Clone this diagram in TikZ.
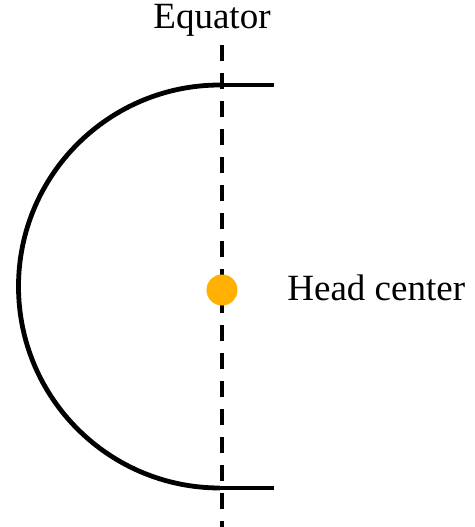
\documentclass[tikz,border=0pt]{standalone}
\usepackage{fontspec}
\setmainfont{Liberation Serif}
\usepackage{xcolor}
\usepackage{tikz}
\usetikzlibrary{positioning,calc}

\definecolor{dotorange}{HTML}{FFB000}

\begin{document}
\begin{tikzpicture}[x=0.5pt,y=0.5pt,
    label text/.style={font=\fontsize{18.5}{22}\selectfont,inner sep=0pt},
    head line/.style={black,line width=2.4pt},
    axis line/.style={black,line width=1.6pt,dash pattern=on 8pt off 6pt}]
  \useasboundingbox (0,0) rectangle (475,527);
  % equator axis
  \coordinate (axtop) at (222,482);
  \coordinate (axbot) at (222,0);
  \draw[axis line] (axtop) -- (axbot);
  \node[label text,anchor=base] (eq) at (212,499) {Equator};
  % half head outline
  \coordinate (htop) at (220,442);
  \coordinate (hbot) at (220,39);
  \coordinate (htopr) at (274,442);
  \coordinate (hbotr) at (274,39);
  \draw[head line] (htop) arc[start angle=90,end angle=270,radius=201.5];
  \draw[head line] (htop) -- (htopr);
  \draw[head line] (hbot) -- (hbotr);
  % head center
  \node[circle,fill=dotorange,minimum size=15.5pt,inner sep=0pt] (hc) at (222,237) {};
  \node[label text,anchor=base west] (hclab) at (287,227) {Head center};
\end{tikzpicture}
\end{document}
